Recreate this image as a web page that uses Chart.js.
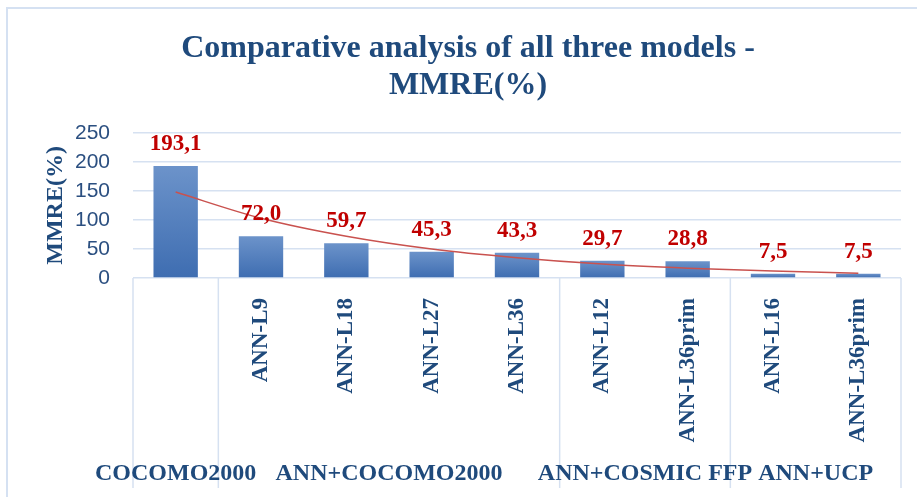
<!DOCTYPE html>
<html>
<head>
<meta charset="utf-8">
<script src="https://cdn.jsdelivr.net/npm/chart.js@4.4.1/dist/chart.umd.min.js"></script>
<style>
  html, body { margin: 0; padding: 0; background: #fff; }
  canvas { display: block; }
</style>
</head>
<body>
<canvas id="grafMmre" width="917" height="497"></canvas>
<script>
// datos del grafico
const categorias = ['', 'ANN-L9', 'ANN-L18', 'ANN-L27', 'ANN-L36', 'ANN-L12', 'ANN-L36prim', 'ANN-L16', 'ANN-L36prim'];
const valores = [193.1, 72.0, 59.7, 45.3, 43.3, 29.7, 28.8, 7.5, 7.5];
// linea de tendencia
const tendencia = [148, 103, 72, 50, 35, 24, 17, 12, 8.3];
const grupos = ['COCOMO2000', 'ANN+COCOMO2000', 'ANN+COSMIC FFP', 'ANN+UCP'];
const tamGrupos = [1, 4, 2, 2];
const ticksY = [0, 50, 100, 150, 200, 250];

const azul = '#1f4a7c';
const lineaClara = '#d6e1f1';
const serif = "'Liberation Serif', 'Times New Roman', serif";

// etiquetas rojas encima de las barras
const etiquetas = {
    id: 'etiquetas',
    afterDatasetsDraw(chart) {
        const ctx = chart.ctx;
        const meta = chart.getDatasetMeta(0);
        ctx.save();
        ctx.font = 'bold 23px ' + serif;
        ctx.fillStyle = '#c00000';
        ctx.textAlign = 'center';
        ctx.textBaseline = 'middle';
        meta.data.forEach((bar, i) => {
            ctx.fillText(valores[i].toFixed(1).replace('.', ','), bar.x, bar.y - 22);
        });
        ctx.restore();
    }
};

// eje de categorias en dos niveles + marco
const ejeGrupos = {
    id: 'ejeGrupos',
    beforeDraw(chart) {
        const ctx = chart.ctx;
        ctx.save();
        ctx.strokeStyle = '#d5e1f2';
        ctx.lineWidth = 2;
        ctx.strokeRect(7, 8, 960, 560);
        ctx.restore();
    },
    afterDraw(chart) {
        const ctx = chart.ctx;
        const x = chart.scales.x;
        const abajo = chart.chartArea.bottom;
        ctx.save();
        ctx.strokeStyle = lineaClara;
        ctx.lineWidth = 1.5;
        let inicio = 0;
        const bordes = [x.getPixelForValue(-0.5)];
        tamGrupos.forEach(n => {
            inicio += n;
            bordes.push(x.getPixelForValue(inicio - 0.5));
        });
        bordes.forEach(px => {
            ctx.beginPath();
            ctx.moveTo(px, abajo);
            ctx.lineTo(px, 488);
            ctx.stroke();
        });
        ctx.font = 'bold 24px ' + serif;
        ctx.fillStyle = azul;
        ctx.textAlign = 'center';
        ctx.textBaseline = 'middle';
        grupos.forEach((g, i) => {
            ctx.fillText(g, (bordes[i] + bordes[i + 1]) / 2, 474);
        });
        ctx.restore();
    }
};

const ctxMmre = document.getElementById('grafMmre').getContext('2d');
const grafMmre = new Chart(ctxMmre, {
    type: 'bar',
    data: {
        labels: categorias,
        datasets: [{
            label: 'MMRE(%)',
            data: valores,
            backgroundColor: (c) => {
                const chart = c.chart;
                if (c.raw === undefined || !chart.chartArea) return '#4f7fc0';
                const y = chart.scales.y;
                const top = y.getPixelForValue(c.raw);
                const bot = y.getPixelForValue(0);
                const g = chart.ctx.createLinearGradient(0, top, 0, bot);
                g.addColorStop(0, '#6c93ca');
                g.addColorStop(1, '#3e6db1');
                return g;
            },
            borderWidth: 0,
            barPercentage: 0.52,
            categoryPercentage: 1,
            order: 2
        }, {
            type: 'line',
            label: 'tendencia',
            data: tendencia,
            borderColor: '#c9524f',
            borderWidth: 1.5,
            pointRadius: 0,
            cubicInterpolationMode: 'monotone',
            fill: false,
            order: 1
        }]
    },
    options: {
        responsive: false,
        animation: false,
        layout: { padding: { left: 35, right: 16, top: 0, bottom: 0 } },
        plugins: {
            legend: { display: false },
            tooltip: { enabled: false },
            title: {
                display: true,
                text: ['Comparative analysis of all three models -', 'MMRE(%)'],
                color: azul,
                font: { family: serif, size: 32, weight: 'bold', lineHeight: 1.17 },
                padding: { top: 30, bottom: 28 }
            }
        },
        scales: {
            x: {
                grid: { display: false },
                border: { display: false },
                ticks: {
                    autoSkip: false,
                    minRotation: 90,
                    maxRotation: 90,
                    padding: 12,
                    color: azul,
                    font: { family: serif, size: 23, weight: 'bold' }
                },
                afterFit(scale) { scale.height = 219; }
            },
            y: {
                min: 0,
                max: 250,
                afterBuildTicks(scale) { scale.ticks = ticksY.map(v => ({ value: v })); },
                grid: { color: lineaClara, lineWidth: 1.5, drawTicks: false },
                border: { display: false },
                ticks: {
                    padding: 23,
                    color: '#2b4f80',
                    font: { family: "'Liberation Sans', Arial, sans-serif", size: 21 }
                },
                title: {
                    display: true,
                    text: 'MMRE(%)',
                    color: azul,
                    font: { family: serif, size: 24, weight: 'bold' },
                    padding: { top: 6, bottom: 0 }
                },
                afterFit(scale) { scale.width = 98; }
            }
        }
    },
    plugins: [etiquetas, ejeGrupos]
});
</script>
</body>
</html>
